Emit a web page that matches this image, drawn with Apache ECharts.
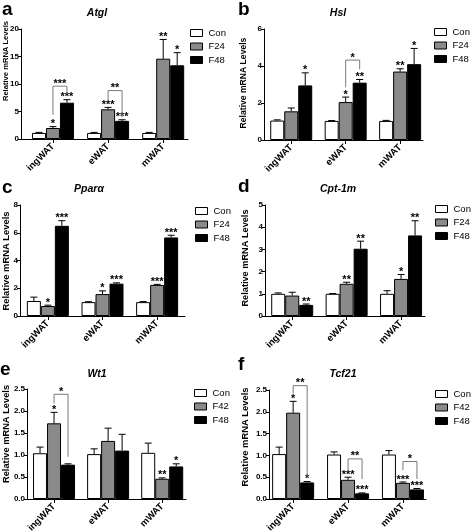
<!DOCTYPE html>
<html><head><meta charset="utf-8">
<script src="https://cdn.jsdelivr.net/npm/echarts@6/dist/echarts.min.js"></script>
<style>html,body{margin:0;padding:0;background:#fff}#c{width:473px;height:532px}</style>
</head><body><div id="c"></div>
<script>
// ---------- data ----------
const categories = ['ingWAT', 'eWAT', 'mWAT'];
const groupsAD = ['Con', 'F24', 'F48'];
const groupsEF = ['Con', 'F42', 'F48'];
const yTitle = 'Relative mRNA Levels';
const genes = ['Atgl', 'Hsl', 'Pparα', 'Cpt-1m', 'Wt1', 'Tcf21'];
const panelLetters = ['a', 'b', 'c', 'd', 'e', 'f'];

// rows = Con, F24/F42, F48 ; columns = ingWAT, eWAT, mWAT
const atglMean = [[1.1, 1.1, 1.1], [2.0, 5.4, 14.6], [6.6, 3.3, 13.4]];
const atglSem = [[0.1, 0.1, 0.1], [0.25, 0.35, 3.5], [0.55, 0.2, 2.3]];
const atglStars = [['', '', ''], ['*', '***', '**'], ['***', '***', '*']];
const atglBrackets = [[0, 1, 2, 4.4, 8.2, 9.6], [1, 1, 2, 7.1, 3.95, 8.8]];
const atglBracketLabels = ['***', '**'];

const hslMean = [[1.05, 1.03, 1.03], [1.55, 2.05, 3.7], [2.95, 3.1, 4.1]];
const hslSem = [[0.04, 0.02, 0.03], [0.18, 0.27, 0.15], [0.68, 0.17, 0.85]];
const hslStars = [['', '', ''], ['', '*', '**'], ['*', '**', '*']];
const hslBrackets = [[1, 1, 2, 2.85, 3.82, 4.32]];
const hslBracketLabels = ['*'];

const pparaMean = [[1.08, 1.0, 1.0], [0.72, 1.58, 2.24], [6.5, 2.33, 5.66]];
const pparaSem = [[0.28, 0.03, 0.04], [0.06, 0.23, 0.04], [0.37, 0.06, 0.16]];
const pparaStars = [['', '', ''], ['*', '*', '***'], ['***', '***', '***']];
const pparaBrackets = [];
const pparaBracketLabels = [];

const cptMean = [[1.0, 1.0, 1.0], [0.92, 1.45, 1.67], [0.5, 3.03, 3.63]];
const cptSem = [[0.04, 0.01, 0.14], [0.15, 0.07, 0.2], [0.04, 0.34, 0.66]];
const cptStars = [['', '', ''], ['', '**', '*'], ['**', '**', '**']];
const cptBrackets = [];
const cptBracketLabels = [];

const wt1Mean = [[1.04, 1.02, 1.05], [1.72, 1.32, 0.46], [0.78, 1.1, 0.74]];
const wt1Sem = [[0.14, 0.12, 0.22], [0.25, 0.29, 0.02], [0.02, 0.37, 0.06]];
const wt1Stars = [['', '', ''], ['*', '', '**'], ['', '', '*']];
const wt1Brackets = [[0, 1, 2, 2.17, 0.96, 2.38]];
const wt1BracketLabels = ['*'];

const tcfMean = [[1.03, 1.02, 1.02], [1.98, 0.44, 0.37], [0.38, 0.13, 0.22]];
const tcfSem = [[0.16, 0.06, 0.09], [0.26, 0.06, 0.02], [0.02, 0.01, 0.02]];
const tcfStars = [['', '', ''], ['*', '***', '***'], ['*', '***', '***']];
const tcfBrackets = [[0, 1, 2, 2.42, 0.51, 2.6], [1, 1, 2, 0.66, 0.46, 0.92], [2, 1, 2, 0.66, 0.46, 0.86]];
const tcfBracketLabels = ['**', '**', '*'];

const yMax = [20, 6, 8, 5, 2.5, 2.5];
const yInterval = [5, 2, 2, 1, 0.5, 0.5];

// ---------- layout / style ----------
const BW = 14;
const FONT = 'Arial, "Liberation Sans", sans-serif';
const colors = ['#ffffff', '#8a8a8a', '#000000'];
const layout = [
  { left: 21, right: 188, top: 29, bottom: 139, xmin: -0.58, xmax: 2.45, dec: 0, title: [97, 13], letter: [2, 15], lg: [190, 28], name: [6, 61, 7.6] },
  { left: 264, right: 423, top: 29, bottom: 140, xmin: -0.5, xmax: 2.42, dec: 0, title: [338, 13], letter: [238, 15], lg: [434, 27], name: [244, 83, 8.6] },
  { left: 20, right: 185, top: 205, bottom: 316, xmin: -0.51, xmax: 2.51, dec: 0, title: [89, 189], letter: [2, 193], lg: [195, 206], name: [6, 261, 9.4] },
  { left: 265, right: 425, top: 205, bottom: 316, xmin: -0.5, xmax: 2.44, dec: 0, title: [338, 189], letter: [238, 192], lg: [435, 204], name: [245, 258, 9.2] },
  { left: 27, right: 186, top: 389, bottom: 499, xmin: -0.5, xmax: 2.44, dec: 1, title: [97, 374], letter: [0, 375], lg: [194, 388], name: [6, 434, 9.3] },
  { left: 269, right: 426, top: 390, bottom: 499, xmin: -0.44, xmax: 2.42, dec: 1, title: [343, 374], letter: [238, 370], lg: [435, 389], name: [245, 437, 9.4] }
];

const panels = [
  { groups: groupsAD, mean: atglMean, sem: atglSem, stars: atglStars, br: atglBrackets, brl: atglBracketLabels },
  { groups: groupsAD, mean: hslMean, sem: hslSem, stars: hslStars, br: hslBrackets, brl: hslBracketLabels },
  { groups: groupsAD, mean: pparaMean, sem: pparaSem, stars: pparaStars, br: pparaBrackets, brl: pparaBracketLabels },
  { groups: groupsAD, mean: cptMean, sem: cptSem, stars: cptStars, br: cptBrackets, brl: cptBracketLabels },
  { groups: groupsEF, mean: wt1Mean, sem: wt1Sem, stars: wt1Stars, br: wt1Brackets, brl: wt1BracketLabels },
  { groups: groupsEF, mean: tcfMean, sem: tcfSem, stars: tcfStars, br: tcfBrackets, brl: tcfBracketLabels }
];

const grid = [], xAxis = [], yAxis = [], series = [], legend = [], graphic = [];

panels.forEach((p, k) => {
  const L = layout[k];
  grid.push({ left: L.left, top: L.top, width: L.right - L.left, height: L.bottom - L.top, containLabel: false, outerBoundsMode: 'none' });
  xAxis.push({
    type: 'value', gridIndex: k, min: L.xmin, max: L.xmax,
    axisLine: { show: true, onZero: false, lineStyle: { color: '#000', width: 1 } },
    axisTick: { show: true, length: 4, customValues: [0, 1, 2], lineStyle: { color: '#000' } },
    axisLabel: { customValues: [0, 1, 2], rotate: 45, margin: 6, formatter: v => categories[Math.round(v)],
      fontFamily: FONT, fontWeight: 'bold', fontSize: 9.5, color: '#000' },
    splitLine: { show: false }
  });
  yAxis.push({
    type: 'value', gridIndex: k, min: 0, max: yMax[k], interval: yInterval[k],
    axisLine: { show: true, onZero: false, lineStyle: { color: '#000', width: 1 } },
    axisTick: { show: true, length: 3, lineStyle: { color: '#000' } },
    axisLabel: { margin: 2, fontFamily: FONT, fontWeight: 'bold', fontSize: 8, color: '#000',
      formatter: v => v.toFixed(L.dec) },
    splitLine: { show: false }
  });
  p.groups.forEach((n, g) => {
    series.push({
      type: 'bar', name: n, xAxisIndex: k, yAxisIndex: k, barWidth: BW, barGap: '0%',
      data: p.mean[g].map((v, i) => [i, v]),
      itemStyle: { color: colors[g], borderColor: '#000', borderWidth: 1 },
      silent: true, animation: false
    });
  });
  // error bars + stars
  const ed = [];
  for (let g = 0; g < 3; g++) for (let i = 0; i < 3; i++) ed.push([i, g, p.mean[g][i], p.sem[g][i]]);
  series.push({
    type: 'custom', xAxisIndex: k, yAxisIndex: k, z: 5, silent: true, animation: false,
    encode: { x: 0, y: 2 }, data: ed,
    renderItem(params, api) {
      const i = api.value(0), g = api.value(1), m = api.value(2), e = api.value(3);
      const p0 = api.coord([i, m]), p1 = api.coord([i, m + e]);
      const cx = p0[0] + (g - 1) * BW;
      const ch = [];
      if (e > 0) {
        ch.push({ type: 'line', shape: { x1: cx, y1: p0[1], x2: cx, y2: p1[1] }, style: { stroke: '#000', lineWidth: 1 } });
        ch.push({ type: 'line', shape: { x1: cx - 3.5, y1: p1[1], x2: cx + 3.5, y2: p1[1] }, style: { stroke: '#000', lineWidth: 1 } });
      }
      const s = p.stars[g][i];
      if (s) ch.push({ type: 'text', x: cx, y: p1[1] + 3, style: { text: s, align: 'center', verticalAlign: 'bottom',
        font: 'bold 11px ' + FONT, fill: '#000' } });
      return { type: 'group', children: ch };
    }
  });
  if (p.br.length) {
    series.push({
      type: 'custom', xAxisIndex: k, yAxisIndex: k, z: 6, silent: true, animation: false, clip: false,
      encode: { x: 0, y: 5 }, data: p.br,
      renderItem(params, api) {
        const i = api.value(0), gL = api.value(1), gR = api.value(2);
        const pL = api.coord([i, api.value(3)]), pR = api.coord([i, api.value(4)]), pT = api.coord([i, api.value(5)]);
        const xL = pL[0] + (gL - 1) * BW, xR = pL[0] + (gR - 1) * BW;
        return { type: 'group', children: [
          { type: 'polyline', shape: { points: [[xL, pL[1]], [xL, pT[1]], [xR, pT[1]], [xR, pR[1]]] },
            style: { stroke: '#7a7a7a', lineWidth: 1, fill: null } },
          { type: 'text', x: (xL + xR) / 2, y: pT[1] + 3, style: { text: p.brl[params.dataIndex], align: 'center',
            verticalAlign: 'bottom', font: 'bold 11px ' + FONT, fill: '#000' } }
        ] };
      }
    });
  }
  legend.push({
    data: p.groups, orient: 'vertical', left: L.lg[0], top: L.lg[1], icon: 'rect',
    itemWidth: 12, itemHeight: 7, itemGap: 3.5, padding: 0, selectedMode: false,
    itemStyle: { borderColor: '#000', borderWidth: 1 },
    textStyle: { fontFamily: FONT, fontSize: 9.5, color: '#000', padding: [0, 0, 0, 1] }
  });
  graphic.push({ type: 'text', x: L.title[0], y: L.title[1], style: { text: genes[k], align: 'center', verticalAlign: 'middle',
    font: 'italic bold 10.5px ' + FONT, fill: '#000' } });
  graphic.push({ type: 'text', x: L.letter[0], y: L.letter[1] + 4, style: { text: panelLetters[k], align: 'left', verticalAlign: 'bottom',
    font: 'bold 19px ' + FONT, fill: '#000' } });
  graphic.push({ type: 'text', x: L.name[0], y: L.name[1], rotation: Math.PI / 2,
    style: { text: yTitle, align: 'center', verticalAlign: 'middle', font: 'bold ' + L.name[2] + 'px ' + FONT, fill: '#000' } });
});

const chart = echarts.init(document.getElementById('c'), null, { renderer: 'canvas' });
chart.setOption({ backgroundColor: '#fff', animation: false, grid, xAxis, yAxis, series, legend, graphic });
</script>
</body></html>
